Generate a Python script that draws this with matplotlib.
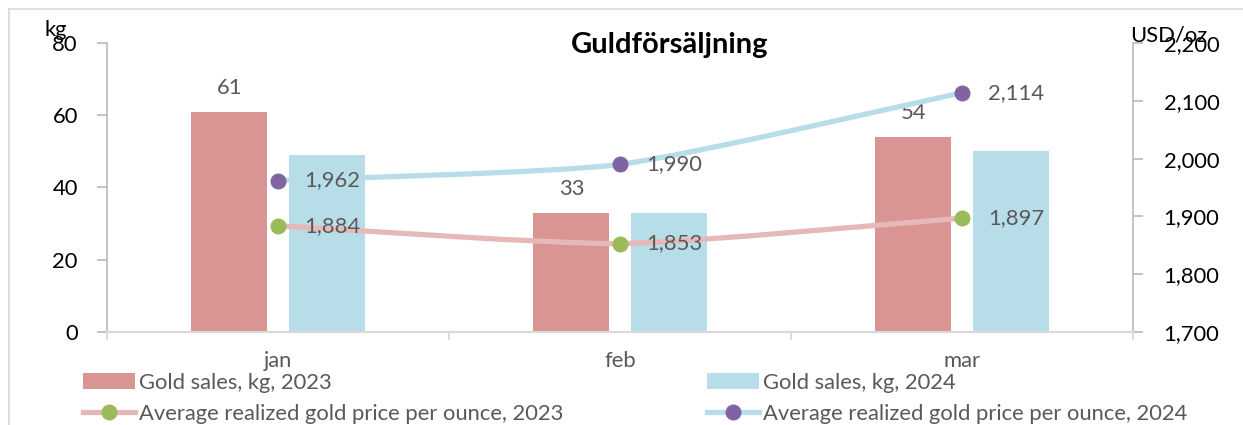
import matplotlib
matplotlib.use("Agg")
import matplotlib.pyplot as plt
import numpy as np
from matplotlib.path import Path
from matplotlib.patches import PathPatch, Patch
from matplotlib.lines import Line2D

plt.rcParams['font.family'] = ['Lato', 'DejaVu Sans']

categories = ['jan', 'feb', 'mar']
sales_2023 = [61, 33, 54]
sales_2024 = [49, 33, 50]
price_2023 = [1884, 1853, 1897]
price_2024 = [1962, 1990, 2114]
left_ticks = [0, 20, 40, 60, 80]
right_ticks = [1700, 1800, 1900, 2000, 2100, 2200]

title = 'Guldförsäljning'
lbl_s23 = 'Gold sales, kg, 2023'
lbl_s24 = 'Gold sales, kg, 2024'
lbl_p23 = 'Average realized gold price per ounce, 2023'
lbl_p24 = 'Average realized gold price per ounce, 2024'

c_bar23 = '#D99594'
c_bar24 = '#B7DEE8'
c_line23 = '#E6B9B8'
c_mark23 = '#9BBB59'
c_line24 = '#B7DEE8'
c_mark24 = '#8064A2'
c_text = '#595959'
c_axis = '#BFBFBF'
c_grid = '#D9D9D9'

FS = 15.8
W, H = 1243, 425
fig = plt.figure(figsize=(W / 100, H / 100), dpi=100)
ax = fig.add_axes([107 / W, 1 - 332 / H, (1133 - 107) / W, (332 - 43) / H])
ax2 = ax.twinx()

x = np.arange(len(categories))
bw = 0.222
off = 0.142
ax.bar(x - off, sales_2023, bw, color=c_bar23, zorder=2)
ax.bar(x + off, sales_2024, bw, color=c_bar24, zorder=2)
for xi, v in zip(x, sales_2023):
    ax.annotate(f'{v}', (xi - off, v), xytext=(0, 10), textcoords='offset points',
                ha='center', va='bottom', fontsize=FS, color=c_text)

ax.set_xlim(-0.5, 2.5)
ax.set_ylim(0, 80)
ax2.set_ylim(1700, 2200)
ax.set_yticks(left_ticks)
ax2.set_yticks(right_ticks)
ax2.set_yticklabels([f'{t:,}' for t in right_ticks])
ax.set_xticks([-0.5, 0.5, 1.5, 2.5])
ax.set_xticklabels([])
ax.set_xticks(x, minor=True)
ax.set_xticklabels(categories, minor=True)
ax.tick_params(axis='x', which='minor', length=0, pad=14, labelsize=FS, labelcolor=c_text)
ax.tick_params(axis='x', which='major', length=6, color=c_grid, width=1.3)
ax.tick_params(axis='y', length=7, color=c_axis, width=1.3, pad=14, labelsize=FS, labelcolor='black')
ax2.tick_params(axis='y', length=7, color=c_axis, width=1.3, pad=15, labelsize=FS, labelcolor='black')

for a in (ax, ax2):
    a.spines['top'].set_visible(False)
    a.spines['left'].set_color(c_axis)
    a.spines['right'].set_color(c_axis)
    a.spines['bottom'].set_color(c_grid)
    a.spines['left'].set_linewidth(1.3)
    a.spines['right'].set_linewidth(1.3)
    a.spines['bottom'].set_linewidth(1.5)
ax2.spines['left'].set_visible(False)
ax.spines['right'].set_visible(False)


def smooth_path(xs, ys, k=0.1):
    pts = np.column_stack([xs, ys]).astype(float)
    verts = [pts[0]]
    codes = [Path.MOVETO]
    n = len(pts)
    for i in range(n - 1):
        p0 = pts[i - 1] if i > 0 else pts[i]
        p1 = pts[i]
        p2 = pts[i + 1]
        p3 = pts[i + 2] if i + 2 < n else pts[i + 1]
        c1 = p1 + (p2 - p0) * k
        c2 = p2 - (p3 - p1) * k
        verts += [c1, c2, p2]
        codes += [Path.CURVE4] * 3
    return Path(verts, codes)


for ys, lc, mc in ((price_2023, c_line23, c_mark23), (price_2024, c_line24, c_mark24)):
    patch = PathPatch(smooth_path(x, ys), facecolor='none', edgecolor=lc, lw=3.8,
                      capstyle='round', zorder=3)
    ax2.add_patch(patch)
    ax2.plot(x, ys, linestyle='none', marker='o', ms=10.5, color=mc, zorder=4)
    for xi, v in zip(x, ys):
        ax2.annotate(f'{v:,}', (xi, v), xytext=(19, 0), textcoords='offset points',
                     ha='left', va='center', fontsize=FS, color=c_text, zorder=5)

fig.text(670 / W, 1 - 45 / H, title, ha='center', va='center', fontsize=21,
         fontweight='bold', color='black')
fig.text(44 / W, 1 - 30 / H, 'kg', ha='left', va='center', fontsize=FS, color='black')
fig.text(1130 / W, 1 - 35 / H, 'USD/oz', ha='left', va='center', fontsize=FS, color='black')

h_s23 = Patch(facecolor=c_bar23, edgecolor='none')
h_s24 = Patch(facecolor=c_bar24, edgecolor='none')
h_p23 = Line2D([], [], color=c_line23, lw=3.8, marker='o', ms=10.5, mfc=c_mark23, mec=c_mark23)
h_p24 = Line2D([], [], color=c_line24, lw=3.8, marker='o', ms=10.5, mfc=c_mark24, mec=c_mark24)

leg_kw = dict(loc='upper left', frameon=False, fontsize=FS, handlelength=2.35, handleheight=0.75,
              handletextpad=0.22, labelspacing=0.5, borderpad=0, borderaxespad=0,
              labelcolor=c_text)
leg1 = fig.legend([h_s23, h_p23], [lbl_s23, lbl_p23], bbox_to_anchor=(83 / W, 1 - 373 / H), **leg_kw)
leg2 = fig.legend([h_s24, h_p24], [lbl_s24, lbl_p24], bbox_to_anchor=(707 / W, 1 - 373 / H), **leg_kw)

fig.add_artist(Line2D([9 / W, 1], [1 - 9 / H, 1 - 9 / H], color='#D9D9D9', lw=1.2,
                      transform=fig.transFigure))
fig.add_artist(Line2D([9 / W, 9 / W], [1 - 9 / H, 0], color='#D9D9D9', lw=1.2,
                      transform=fig.transFigure))

fig.savefig('out.png', dpi=100, facecolor='white')
